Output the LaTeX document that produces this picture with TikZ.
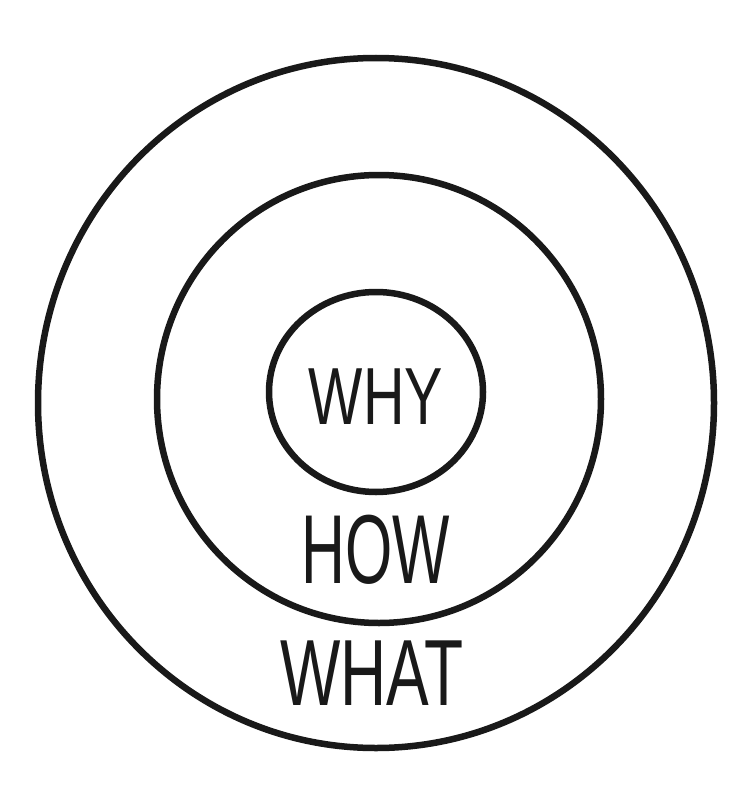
\documentclass[tikz,border=0pt]{standalone}
\usepackage{fontspec}
\usepackage{graphicx}
\setmainfont{Liberation Sans}
\begin{document}
\begin{tikzpicture}[x=1pt,y=-1pt,
  ring/.style={line width=6.5pt, draw=black!90},
  word/.style={inner sep=0pt, text=black!90}]
\useasboundingbox (0,0) rectangle (750,792);
\fill[white] (0,0) rectangle (750,792);
% rings
\draw[ring] (376,403) ellipse [x radius=338, y radius=345];
\draw[ring] (379,399) ellipse [x radius=222, y radius=224];
\draw[ring] (376,392) ellipse [x radius=107, y radius=100];
% words
\node[word] (why) at (376,397) {\scalebox{0.71}[1]{\fontsize{81}{81}\selectfont WHY}};
\node[word] (how) at (376,550) {\scalebox{0.62}[1]{\fontsize{98}{98}\selectfont HOW}};
\node[word] (what) at (372,673) {\scalebox{0.68}[1]{\fontsize{94}{94}\selectfont WHAT}};
\end{tikzpicture}
\end{document}
